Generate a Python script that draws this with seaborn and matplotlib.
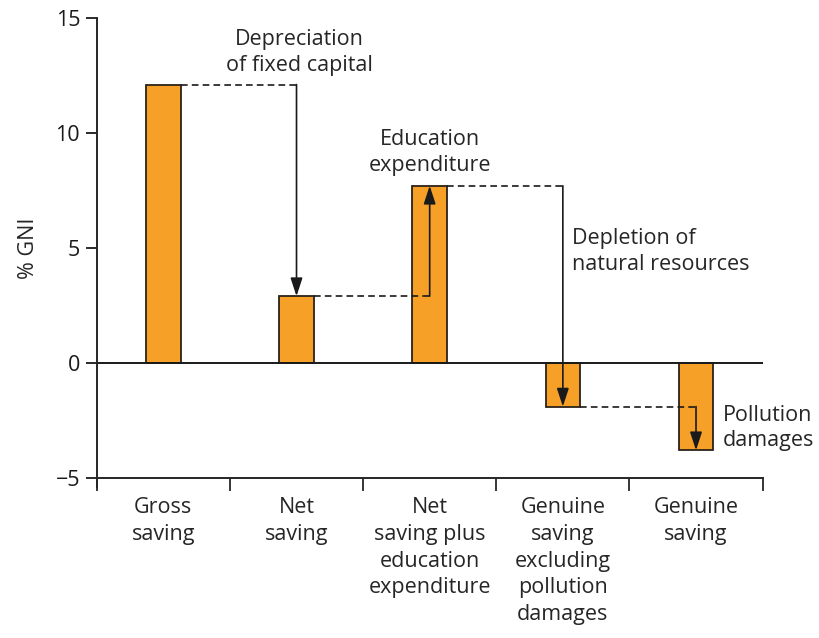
import numpy as np
import pandas as pd
import matplotlib
matplotlib.use("Agg")
import matplotlib.pyplot as plt
import seaborn as sns

# %% ── Data ────────────────────────────────────────────────────────────────
categories = [
    "Gross\nsaving",
    "Net\nsaving",
    "Net\nsaving plus\neducation\nexpenditure",
    "Genuine\nsaving\nexcluding\npollution\ndamages",
    "Genuine\nsaving",
]
values = [12.1, 2.9, 7.7, -1.9, -3.8]

# steps between consecutive bars
step_labels = [
    "Depreciation\nof fixed capital",
    "Education\nexpenditure",
    "Depletion of\nnatural resources",
    "Pollution\ndamages",
]

y_ticks = [-5, 0, 5, 10, 15]
y_tick_labels = ["\u22125", "0", "5", "10", "15"]

df = pd.DataFrame({"category": categories, "value": values})

# %% ── Style ───────────────────────────────────────────────────────────────
sns.set_style("white")
plt.rcParams["font.family"] = ["Open Sans", "DejaVu Sans"]
FS = 15.5

BAR_COLOR = "#F7A028"
EDGE = "#2b2118"
BAR_W = 0.26

fig = plt.figure(figsize=(8.2, 6.38), dpi=100)
ax = fig.add_axes([0.118, 0.251, 0.812, 0.721])

sns.barplot(data=df, x="category", y="value", color=BAR_COLOR,
            width=BAR_W, edgecolor=EDGE, linewidth=1.3, saturation=1,
            ax=ax)

ax.set_xlim(-0.5, len(categories) - 0.5)
ax.set_ylim(-5, 15)

# zero line
ax.axhline(0, color="#1a1a1a", lw=1.4, zorder=1)

# connectors + arrows
half = BAR_W / 2
for i, lab in enumerate(step_labels):
    y0, y1 = values[i], values[i + 1]
    x_from = i + half
    x_to = i + 1
    ax.plot([x_from, x_to], [y0, y0], ls=(0, (4, 2.5)), color="#1a1a1a",
            lw=1.2, zorder=4)
    ax.annotate("", xy=(x_to, y1), xytext=(x_to, y0),
                arrowprops=dict(arrowstyle="-|>,head_width=0.28,head_length=0.85",
                                color="#1a1a1a", lw=1.2,
                                mutation_scale=13, shrinkA=0, shrinkB=0),
                zorder=5)

# step labels
ax.text(1.02, 13.5, step_labels[0], ha="center", va="center",
        fontsize=FS, linespacing=1.3)
ax.text(2.0, 9.13, step_labels[1], ha="center", va="center",
        fontsize=FS, linespacing=1.3)
ax.text(3.07, 4.83, step_labels[2], ha="left", va="center",
        fontsize=FS, linespacing=1.3)
ax.text(4.2, -2.83, step_labels[3], ha="left", va="center",
        fontsize=FS, linespacing=1.3)

# axes / ticks
sns.despine(ax=ax, top=True, right=True)
ax.spines["left"].set_linewidth(1.4)
ax.spines["bottom"].set_linewidth(1.4)
ax.spines["left"].set_bounds(-5.4, 15)

ax.set_yticks(y_ticks)
ax.set_yticklabels(y_tick_labels, fontsize=FS)
ax.tick_params(axis="y", direction="out", length=8, width=1.3, pad=4,
               left=True, colors="#1a1a1a")

bounds = np.arange(len(categories) + 1) - 0.5
ax.set_xticks(bounds)
ax.set_xticklabels([""] * len(bounds))
ax.set_xticks(np.arange(len(categories)), minor=True)
ax.set_xticklabels(categories, minor=True, fontsize=FS, linespacing=1.35,
                   va="top")
ax.tick_params(axis="x", which="major", direction="out", length=9, width=1.3,
               bottom=True)
ax.tick_params(axis="x", which="minor", length=0, pad=14)

ax.set_xlabel("")
ax.set_ylabel("% GNI", fontsize=FS, labelpad=12)

fig.savefig("out.png", dpi=100)
